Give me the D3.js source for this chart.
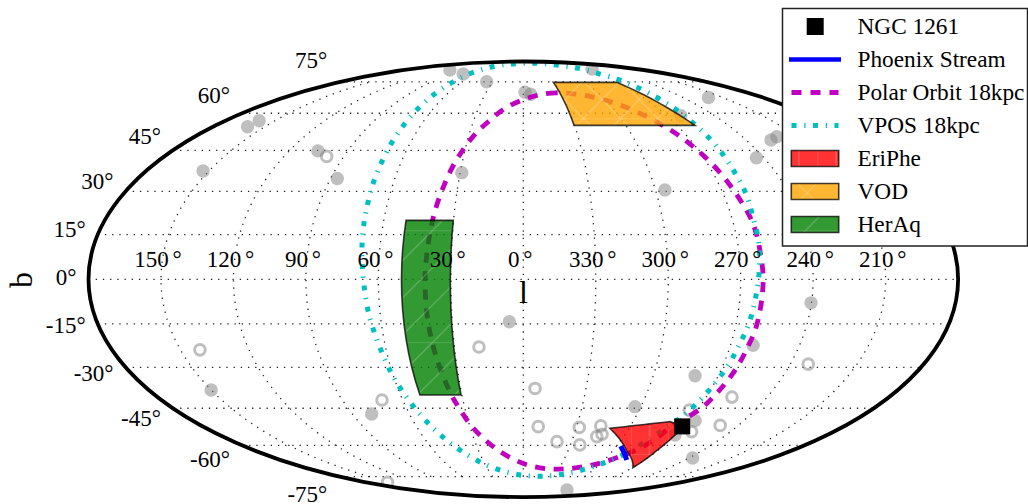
<!DOCTYPE html>
<html lang="en">
<head>
<meta charset="utf-8">
<title>Galactic sky map</title>
<script src="https://d3js.org/d3.v7.min.js"></script>
<style>
body { margin: 0; background: #fff; overflow: hidden; }
svg { display: block; }
text { font-family: "Liberation Serif", serif; fill: #000; }
.grid { fill: none; stroke: #222; stroke-width: 1.3; stroke-dasharray: 1.3,5.9; }
</style>
</head>
<body>
<script>
// all positions are [l, b] in degrees, l > 0 to the left of the centre
var latTicks = [-75, -60, -45, -30, -15, 0, 15, 30, 45, 60, 75];
var lonTicks = [150, 120, 90, 60, 30, 0, -30, -60, -90, -120, -150];
var lonLabels = ["150", "120", "90", "60", "30", "0", "330", "300", "270", "240", "210"];

var filledSats = [[152.8,37.3],[159.9,54.3],[159.5,56.8],[105.3,44.8],[86.9,34.6],[150.1,-38.2],[79.9,-47.2],[5.9,-14.3],
  [109.7,82.2],[74.4,79.6],[36.0,75.1],[-1.4,69.7],[-5.8,68.7],[-109.3,82.9],[-139.1,67.1],[-98.7,58.9],[29.2,36.7],[-64.3,30.5],
  [-79.3,-33.0],[-57.0,-44.4],[-93.5,-49.8],[-122.7,-65.7],[-71.4,-83.2],[-138.8,50.3],[-133.4,49.0],[-116.3,42.2],[-119.8,-7.9],
  [-99.8,-22.3],[-89.8,-55.6]];
var openSats = [[98.6,42.7],[141.5,-23.9],[70.3,-41.9],[154.9,-78.2],[19.3,-22.9],[-5.6,-37.6],[-102.7,-40.8],[-85.9,-45.7],
  [-109.9,-51.7],[-97.6,-54.3],[-8.4,-52.2],[-31.6,-52.5],[-43.4,-51.9],[-44.0,-56.3],[-46.4,-55.3],[-20.9,-58.4],[-36.0,-59.8],
  [-128.1,-28.9]];

var polarOrbit = [[-41.5,68.8],[-26.2,69.4],[-11.7,68.3],[2.4,65.5],[13.2,61.7],[20.5,56.8],[26.4,51.7],[30.7,45.8],[33.8,39.8],
  [35.9,33.7],[38.1,25.2],[39.4,16.8],[40.5,4.5],[40.7,-1.9],[40.2,-14.5],[38.5,-26.8],[35.3,-39.4],[32.7,-45.4],[29.2,-51.7],
  [24.2,-57.0],[17.1,-62.0],[7.1,-66.3],[-6.4,-69.5],[-22.5,-71.0],[-37.7,-70.8],[-51.4,-69.5],[-61.9,-67.4],[-76.0,-61.6],
  [-80.2,-57.3],[-83.4,-52.2],[-91.6,-44.8],[-93.9,-39.6],[-95.6,-34.5],[-96.9,-28.9],[-97.7,-23.3],[-98.7,-17.3],[-99.0,-11.1],
  [-99.2,-4.9],[-99.3,1.4],[-98.9,7.6],[-98.7,14.6],[-98.1,20.4],[-96.7,25.9],[-95.2,31.2],[-93.5,36.4],[-91.4,41.4],[-88.8,46.2],
  [-85.8,50.6],[-82.0,54.6],[-76.8,58.5],[-70.9,61.9],[-63.2,64.9],[-53.3,67.2]];
var vpos = [[69.2,73.9],[67.0,79.6],[60.1,84.2],[31.8,86.9],[-35.5,87.6],[-77.4,86.0],[-91.8,83.4],[-95.1,79.6],[-98.8,75.9],
  [-99.9,71.3],[-100.5,66.3],[-101.0,60.9],[-100.9,54.9],[-101.1,49.0],[-100.8,42.4],[-100.4,35.6],[-100.2,28.6],[-99.2,21.0],
  [-99.0,13.9],[-98.3,6.8],[-97.3,-0.5],[-96.3,-7.7],[-95.4,-14.8],[-93.9,-21.6],[-92.5,-28.4],[-90.6,-34.8],[-88.4,-40.8],
  [-85.7,-46.6],[-81.6,-51.9],[-77.2,-56.9],[-72.5,-62.0],[-66.5,-66.1],[-56.9,-69.8],[-43.8,-72.7],[-26.2,-74.5],[-5.5,-74.6],
  [13.9,-72.7],[29.1,-69.1],[38.9,-64.3],[46.2,-58.7],[51.1,-52.9],[54.9,-46.6],[57.8,-40.0],[60.2,-33.4],[61.8,-26.3],[63.3,-19.4],
  [64.7,-12.2],[65.6,-5.0],[66.5,2.3],[67.4,9.6],[68.1,16.9],[68.6,24.4],[69.2,31.9],[69.5,39.2],[69.9,46.7],[70.1,53.9],[70.2,61.0],
  [70.0,67.8]];
var phoenix = [[-62.7,-60.3],[-68.8,-63.2],[-76.7,-66.6]];
var ngc1261 = [[-89.2,-52.1]];
var eriPhe = [[-49.2,-52.9],[-80.3,-50.2],[-90.0,-52.3],[-89.5,-62.9],[-90.3,-70.3],[-68.5,-62.0],[-57.8,-56.9]];
var vod = [[-29.1,74.8],[-90.7,74.8],[-100.5,54.9],[-29.7,54.9]];
var herAq = [[50.4,19.9],[30.1,19.9],[30.4,-40.0],[50.5,-40.0]];

var legendLabels = ["NGC 1261", "Phoenix Stream", "Polar Orbit 18kpc", "VPOS 18kpc", "EriPhe", "VOD", "HerAq"];

var width = 1028, height = 504;
var xScale = d3.scaleLinear().domain([-1, 1]).range([958.1, 88.5]);
var yScale = d3.scaleLinear().domain([-1, 1]).range([497.1, 61.5]);

// mollweide: solve 2t + sin(2t) = pi sin(b), then map through the scales
function project(d) {
	var lat = d[1] * Math.PI / 180, t = lat, i;
	for (i = 0; i < 30; i++) {
		var f = 2 * t + Math.sin(2 * t) - Math.PI * Math.sin(lat);
		var df = 2 + 2 * Math.cos(2 * t);
		if (df < 1e-6) break;
		t = t - f / df;
	}
	return [xScale(d[0] / 180 * Math.cos(t)), yScale(Math.sin(t))];
}

// walk along a polygon's sides in (l, b) so they bend like the grid does
function dense(corners) {
	var out = [];
	corners.forEach(function(c, i) {
		var n = corners[(i + 1) % corners.length];
		d3.range(12).forEach(function(k) {
			out.push([c[0] + (n[0] - c[0]) * k / 12, c[1] + (n[1] - c[1]) * k / 12]);
		});
	});
	return out;
}

var line = d3.line().x(function(d) { return project(d)[0]; }).y(function(d) { return project(d)[1]; });
var lineClosed = d3.line().x(function(d) { return project(d)[0]; }).y(function(d) { return project(d)[1]; })
	.curve(d3.curveCatmullRomClosed.alpha(0.5));
var lineOpen = d3.line().x(function(d) { return project(d)[0]; }).y(function(d) { return project(d)[1]; })
	.curve(d3.curveCatmullRom.alpha(0.5));
var linePoly = d3.line().x(function(d) { return project(d)[0]; }).y(function(d) { return project(d)[1]; })
	.curve(d3.curveLinearClosed);

var svg = d3.select("body").append("svg").attr("width", width).attr("height", height);
var defs = svg.append("defs");

defs.append("clipPath").attr("id", "sky").append("ellipse")
	.attr("cx", xScale(0)).attr("cy", yScale(0))
	.attr("rx", xScale(-1) - xScale(0)).attr("ry", yScale(-1) - yScale(0));

// hatch tiles, shared screen-space lattice of the original renderer
var tile = 37.3;
function hatch(id, x, draw) {
	var p = defs.append("pattern").attr("id", id).attr("patternUnits", "userSpaceOnUse")
		.attr("x", x).attr("y", 6.4).attr("width", tile).attr("height", tile * 3);
	function seg(x1, y1, x2, y2) {
		p.append("line").attr("x1", x1).attr("y1", y1).attr("x2", x2).attr("y2", y2)
			.attr("stroke", "#fff").attr("stroke-opacity", 0.28).attr("stroke-width", 1);
	}
	seg(0, 0, tile, 0);
	draw(seg);
}
hatch("hatchRed", 34.2, function(seg) {
	seg(0, 0, 0, tile * 3);
	seg(tile / 2, 0, tile / 2, tile * 3);
});
hatch("hatchOrange", 23.8, function(seg) {
	[0, 1, 2].forEach(function(k) {
		seg(0, k * tile, tile, (k + 1) * tile);
		seg(tile, k * tile, 0, (k + 1) * tile);
	});
});
hatch("hatchGreen", 22.5, function(seg) {
	[0, 1, 2].forEach(function(k) {
		seg(0, (k + 1) * tile, tile, k * tile);
	});
});

// grid
var grid = svg.append("g");
latTicks.forEach(function(b) {
	grid.append("path").attr("class", "grid").attr("d", line([[180, b], [-180, b]]));
});
lonTicks.forEach(function(l) {
	grid.append("path").attr("class", "grid")
		.attr("d", line(d3.range(-75, 75.5, 1.5).map(function(b) { return [l, b]; })));
});

// satellites
var sats = svg.append("g").attr("clip-path", "url(#sky)");
sats.selectAll("circle.f").data(filledSats).enter().append("circle").attr("class", "f")
	.attr("cx", function(d) { return project(d)[0]; }).attr("cy", function(d) { return project(d)[1]; })
	.attr("r", 6.7).attr("fill", "#808080").attr("fill-opacity", 0.5);
sats.selectAll("circle.o").data(openSats).enter().append("circle").attr("class", "o")
	.attr("cx", function(d) { return project(d)[0]; }).attr("cy", function(d) { return project(d)[1]; })
	.attr("r", 5.3).attr("fill", "none").attr("stroke", "#808080").attr("stroke-opacity", 0.5).attr("stroke-width", 3);

// orbits
var magentaDash = "10,8.6", cyanDash = "5,7.8,1.2,7.5";
svg.append("path").attr("d", lineClosed(polarOrbit)).attr("fill", "none")
	.attr("stroke", "#bf00bf").attr("stroke-width", 4.8).attr("stroke-dasharray", magentaDash);
svg.append("path").attr("d", lineClosed(vpos)).attr("fill", "none")
	.attr("stroke", "#00bfbf").attr("stroke-width", 5).attr("stroke-dasharray", cyanDash);

// regions
function region(g, d, color, pattern) {
	g.append("path").attr("d", d).attr("fill", color).attr("fill-opacity", 0.8);
	g.append("path").attr("d", d).attr("fill", "url(#" + pattern + ")")
		.attr("stroke", "#000").attr("stroke-opacity", 0.75).attr("stroke-width", 1.6);
}
var regionColors = ["#ff0000", "#ffa500", "#008000"];
var regionHatches = ["hatchRed", "hatchOrange", "hatchGreen"];
[eriPhe, vod, herAq].forEach(function(r, i) {
	region(svg, linePoly(dense(r)), regionColors[i], regionHatches[i]);
});

svg.append("path").attr("d", lineOpen(phoenix)).attr("fill", "none").attr("stroke", "#0000ff").attr("stroke-width", 5);
svg.selectAll("rect.ngc").data(ngc1261).enter().append("rect").attr("class", "ngc")
	.attr("x", function(d) { return project(d)[0] - 8; }).attr("y", function(d) { return project(d)[1] - 8; })
	.attr("width", 16).attr("height", 16).attr("fill", "#000");

// outline on top
svg.append("ellipse")
	.attr("cx", xScale(0)).attr("cy", yScale(0))
	.attr("rx", xScale(-1) - xScale(0)).attr("ry", yScale(-1) - yScale(0))
	.attr("fill", "none").attr("stroke", "#000").attr("stroke-width", 3.8);

// tick labels
svg.selectAll("text.lon").data(lonTicks).enter().append("text").attr("class", "lon")
	.attr("x", function(d) { return project([d, 0])[0] - 3; })
	.attr("y", 266.7).attr("text-anchor", "middle").attr("font-size", 23).attr("word-spacing", -2)
	.text(function(d, i) { return lonLabels[i] + " \u00b0"; });
svg.selectAll("text.lat").data(latTicks).enter().append("text").attr("class", "lat")
	.attr("x", function(d) { return project([180, d])[0] - 12; })
	.attr("y", function(d) { return project([180, d])[1] + 5.7 - 0.26 * d; })
	.attr("text-anchor", "end").attr("font-size", 23)
	.text(function(d) { return d + "\u00b0"; });

svg.append("text").attr("x", 523.5).attr("y", 303).attr("text-anchor", "middle").attr("font-size", 32).text("l");
svg.append("text").attr("transform", "translate(32,280) rotate(-90)").attr("text-anchor", "middle").attr("font-size", 32).text("b");

// legend
var legend = svg.append("g");
legend.append("rect").attr("x", 782.5).attr("y", 8.5).attr("width", 245).attr("height", 237.5)
	.attr("fill", "#fff").attr("stroke", "#222").attr("stroke-width", 1.5);
var rowY = d3.scaleLinear().domain([0, 6]).range([26.5, 224.5]);
legendLabels.forEach(function(t, i) {
	legend.append("text").attr("x", 857.5).attr("y", rowY(i) + 7).attr("font-size", 23.3).text(t);
});
legend.append("rect").attr("x", 806.7).attr("y", rowY(0) - 8.5).attr("width", 17).attr("height", 17).attr("fill", "#000");
legend.append("line").attr("x1", 789).attr("x2", 841).attr("y1", rowY(1)).attr("y2", rowY(1))
	.attr("stroke", "#0000ff").attr("stroke-width", 4.5);
legend.append("line").attr("x1", 791.5).attr("x2", 838.5).attr("y1", rowY(2)).attr("y2", rowY(2))
	.attr("stroke", "#bf00bf").attr("stroke-width", 4.8).attr("stroke-dasharray", "10,9");
legend.append("line").attr("x1", 791.5).attr("x2", 838.5).attr("y1", rowY(3)).attr("y2", rowY(3))
	.attr("stroke", "#00bfbf").attr("stroke-width", 5).attr("stroke-dasharray", cyanDash);
regionColors.forEach(function(c, i) {
	var y = rowY(i + 4);
	var d = "M791.3," + (y - 8) + "H838.7V" + (y + 8) + "H791.3Z";
	region(legend, d, c, regionHatches[i]);
});
</script>
</body>
</html>
